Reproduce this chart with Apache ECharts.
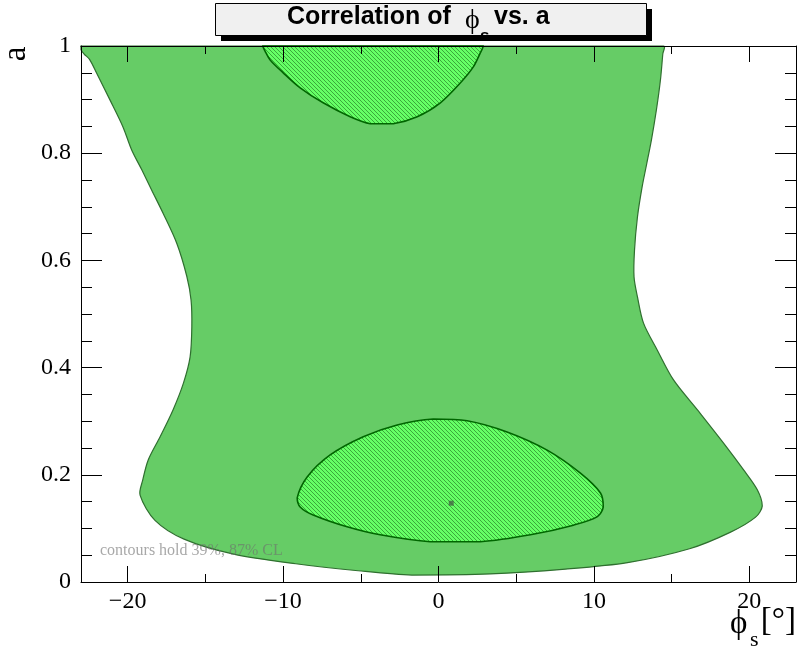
<!DOCTYPE html>
<html>
<head>
<meta charset="utf-8">
<script src="https://cdn.jsdelivr.net/npm/echarts@6/dist/echarts.min.js"></script>
<style>
  html, body { margin: 0; padding: 0; background: #fff; }
  #chart { width: 800px; height: 651px; }
</style>
</head>
<body>
<div id="chart"></div>
<script>
// Axis ranges and tick positions
const xRange = [-23, 23];
const yRange = [0, 1];
const xMajorTicks = [-20, -10, 0, 10, 20];
const xMinorTicks = [-15, -5, 5, 15];

// 87% CL contour (phi_s in degrees, a), clipped at a = 1
const outerContour = [
  [-23.0, 1.0], [14.48, 1.0], [14.43, 0.985], [14.28, 0.937], [14.02, 0.881], [13.70, 0.825],
  [13.38, 0.778], [13.10, 0.737], [12.80, 0.681], [12.61, 0.619], [12.58, 0.569],
  [12.80, 0.532], [13.19, 0.483], [14.07, 0.433], [15.12, 0.377], [16.66, 0.321],
  [18.34, 0.259], [19.63, 0.209], [20.51, 0.172], [20.83, 0.142], [20.40, 0.121],
  [18.79, 0.093], [16.15, 0.062], [12.16, 0.036], [8.16, 0.024], [3.34, 0.015],
  [-1.71, 0.013], [-5.17, 0.021], [-9.18, 0.034], [-13.18, 0.052], [-16.37, 0.080],
  [-18.24, 0.115], [-19.20, 0.162], [-19.03, 0.190], [-18.67, 0.228], [-17.91, 0.271],
  [-17.08, 0.321], [-16.41, 0.371], [-15.98, 0.420], [-15.87, 0.476], [-15.92, 0.526],
  [-16.19, 0.570], [-16.84, 0.632], [-17.72, 0.688], [-18.45, 0.731], [-19.09, 0.769],
  [-19.74, 0.806], [-20.30, 0.849], [-21.13, 0.899], [-21.99, 0.949], [-22.45, 0.975],
  [-22.80, 0.985], [-23.0, 0.993]
];

// 39% CL contour, low-a island
const innerLow = [
  [-9.09, 0.157], [-8.90, 0.140], [-8.06, 0.125], [-5.88, 0.103], [-3.75, 0.088],
  [-0.53, 0.075], [2.69, 0.075], [5.91, 0.088], [8.68, 0.106], [10.22, 0.122],
  [10.60, 0.140], [10.42, 0.166], [9.13, 0.203], [6.99, 0.246], [4.41, 0.280],
  [1.84, 0.301], [-0.33, 0.304], [-2.66, 0.293], [-4.84, 0.271], [-6.97, 0.237],
  [-8.45, 0.196]
];

// 39% CL contour, high-a island, clipped at a = 1
const innerHigh = [
  [-11.30, 1.0], [-11.15, 0.99], [-10.83, 0.974], [-9.99, 0.950], [-8.90, 0.922], [-7.42, 0.894],
  [-5.68, 0.868], [-4.39, 0.855], [-2.91, 0.855], [-1.37, 0.868], [0.12, 0.894],
  [1.40, 0.931], [2.24, 0.961], [2.69, 0.987], [2.82, 0.995], [2.87, 1.0]
];

// best fit point
const bestFit = [[0.82, 0.147]];

const serif = '"Liberation Serif", "DejaVu Serif", serif';
const sans = '"Liberation Sans", Arial, sans-serif';

function hatchPattern() {
  const c = document.createElement('canvas');
  c.width = 4; c.height = 4;
  const g = c.getContext('2d');
  g.fillStyle = '#66ff66';
  g.fillRect(0, 0, 4, 4);
  g.fillStyle = '#3aaa3a';
  for (let i = 0; i < 4; i++) g.fillRect(i, i, 1, 1);
  return { image: c, repeat: 'repeat' };
}

function contourSeries(points, style, z) {
  return {
    type: 'custom',
    xAxisIndex: 0,
    yAxisIndex: 0,
    z: z,
    silent: true,
    data: points,
    renderItem: function (params, api) {
      if (params.dataIndex !== 0) return null;
      const pts = points.map(p => api.coord(p));
      // keep the smoothed outline inside the outline's own bounding box
      const xs = pts.map(p => p[0]), ys = pts.map(p => p[1]);
      const bounds = [[Math.min(...xs), Math.min(...ys)], [Math.max(...xs), Math.max(...ys)]];
      return {
        type: 'polygon',
        shape: { points: pts, smooth: 0.3, smoothConstraint: bounds },
        style: style
      };
    }
  };
}

const chart = echarts.init(document.getElementById('chart'), null, { renderer: 'canvas' });

const tickStyle = { color: '#000', width: 1 };
const minusFmt = v => String(v).replace('-', '\u2212');

function xAxis(position, ticks, len, showLine, showLabel) {
  return {
    type: 'value', position: position, min: xRange[0], max: xRange[1], z: 10,
    axisLine: { show: showLine, onZero: false, lineStyle: { color: '#000', width: 1 } },
    axisTick: { show: true, inside: true, length: len, customValues: ticks, lineStyle: tickStyle },
    axisLabel: showLabel ? {
      show: true, customValues: ticks, formatter: minusFmt, margin: 8,
      fontFamily: serif, fontSize: 24, color: '#000'
    } : { show: false },
    splitLine: { show: false }
  };
}

function yAxis(position, showLabel) {
  return {
    type: 'value', position: position, min: yRange[0], max: yRange[1], interval: 0.2, z: 10,
    axisLine: { show: true, onZero: false, lineStyle: { color: '#000', width: 1 } },
    axisTick: { show: true, inside: true, length: 21, lineStyle: tickStyle },
    minorTick: { show: true, splitNumber: 4, length: 11, lineStyle: tickStyle },
    axisLabel: showLabel ? {
      show: true, margin: 10, fontFamily: serif, fontSize: 24, color: '#000'
    } : { show: false },
    splitLine: { show: false },
    minorSplitLine: { show: false }
  };
}

const option = {
  animation: false,
  backgroundColor: '#fff',
  grid: { left: 81, right: 4, top: 46, bottom: 69, containLabel: false },
  xAxis: [
    xAxis('bottom', xMajorTicks, 16, true, true),
    xAxis('bottom', xMinorTicks, 8, false, false),
    xAxis('top', xMajorTicks, 16, true, false),
    xAxis('top', xMinorTicks, 8, false, false)
  ],
  yAxis: [
    yAxis('left', true),
    yAxis('right', false)
  ],
  series: [
    contourSeries(outerContour, { fill: '#66cc66', stroke: '#2f6f2f', lineWidth: 1.2 }, 2),
    contourSeries(innerLow, { fill: hatchPattern(), stroke: '#006600', lineWidth: 1.6 }, 3),
    contourSeries(innerHigh, { fill: hatchPattern(), stroke: '#006600', lineWidth: 1.6 }, 3),
    {
      type: 'scatter', xAxisIndex: 0, yAxisIndex: 0, z: 4, silent: true,
      symbol: 'rect', symbolSize: 5,
      itemStyle: { color: '#466646' },
      data: bestFit
    }
  ],
  graphic: [
    // title pave with shadow
    { type: 'rect', z: 20, shape: { x: 221, y: 9, width: 431, height: 32 }, style: { fill: '#000' } },
    { type: 'rect', z: 21, shape: { x: 215.5, y: 3.5, width: 431, height: 32 },
      style: { fill: '#f0f0f0', stroke: '#000', lineWidth: 1 } },
    { type: 'text', z: 22, x: 287, y: 17,
      style: { text: 'Correlation of', font: 'bold 25px ' + sans, fill: '#000', verticalAlign: 'middle' } },
    { type: 'text', z: 22, x: 465, y: 21,
      style: { text: '\u03d5', font: '28px ' + serif, fill: '#000', verticalAlign: 'middle' } },
    { type: 'text', z: 22, x: 480, y: 36,
      style: { text: 's', font: 'bold 17px ' + sans, fill: '#000', verticalAlign: 'middle' } },
    { type: 'text', z: 22, x: 494, y: 17,
      style: { text: 'vs. a', font: 'bold 25px ' + sans, fill: '#000', verticalAlign: 'middle' } },
    // axis titles
    { type: 'text', z: 22, x: 16, y: 54, rotation: Math.PI / 2,
      style: { text: 'a', font: '33px ' + serif, fill: '#000', align: 'center', verticalAlign: 'middle' } },
    { type: 'text', z: 22, x: 730, y: 624,
      style: { text: '\u03d5', font: '33px ' + serif, fill: '#000', verticalAlign: 'middle' } },
    { type: 'text', z: 22, x: 750, y: 640,
      style: { text: 's', font: '22px ' + serif, fill: '#000', verticalAlign: 'middle' } },
    { type: 'text', z: 22, x: 796, y: 621,
      style: { text: '[\u00b0]', font: '33px ' + serif, fill: '#000', align: 'right', verticalAlign: 'middle' } },
    // confidence level note
    { type: 'text', z: 22, x: 100, y: 551,
      style: { text: 'contours hold 39%, 87% CL', font: '16px ' + serif,
               fill: 'rgba(110,110,110,0.6)', verticalAlign: 'middle' } }
  ]
};

chart.setOption(option);
</script>
</body>
</html>
